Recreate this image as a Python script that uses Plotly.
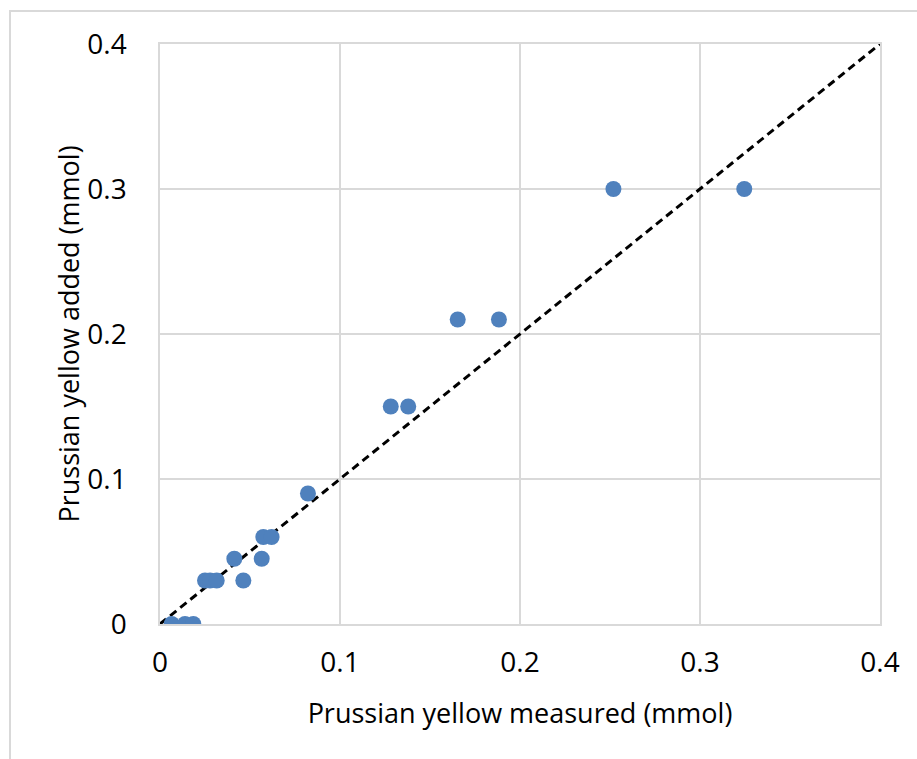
import plotly.graph_objects as go

measured = [0.0065, 0.0139, 0.0185, 0.025, 0.0278, 0.0315, 0.0463, 0.0413, 0.0565,
            0.0574, 0.062, 0.0822, 0.1282, 0.1379, 0.1654, 0.1883, 0.2519, 0.3246]
added = [0, 0, 0, 0.03, 0.03, 0.03, 0.03, 0.045, 0.045,
         0.06, 0.06, 0.09, 0.15, 0.15, 0.21, 0.21, 0.30, 0.30]
line_x = [0, 0.4]
line_y = [0, 0.4]
tick_vals = [0, 0.1, 0.2, 0.3, 0.4]
tick_text = ["0", "0.1", "0.2", "0.3", "0.4"]

FONT = "Open Sans"
grid = "#D9D9D9"

fig = go.Figure()
fig.add_trace(go.Scatter(x=line_x, y=line_y, mode="lines",
                         line=dict(color="black", width=3, dash="8px,5px"),
                         showlegend=False, hoverinfo="skip"))
fig.add_trace(go.Scatter(x=measured, y=added, mode="markers",
                         marker=dict(color="#4F81BD", size=16),
                         showlegend=False))

axis_common = dict(range=[0, 0.4], tickvals=tick_vals, ticktext=tick_text,
                   showgrid=True, gridcolor=grid, gridwidth=1.5,
                   zeroline=False, showline=True, linecolor=grid, linewidth=1.5,
                   mirror=True, ticks="", tickfont=dict(family=FONT, size=28, color="black"),
                   title_font=dict(family=FONT, size=27, color="black"))

fig.update_layout(
    width=917, height=759,
    margin=dict(l=160, r=37, t=44, b=135, autoexpand=False),
    paper_bgcolor="white", plot_bgcolor="white",
    xaxis=dict(**axis_common, title=dict(text="Prussian yellow measured (mmol)", standoff=25),
               ticklabelstandoff=13),
    yaxis=dict(**axis_common, title=dict(text="Prussian yellow added (mmol)", standoff=0),
               ticklabelstandoff=26),
    shapes=[dict(type="rect", xref="paper", yref="paper",
                 x0=(10 - 160) / 720, x1=(925 - 160) / 720,
                 y0=(624 - 770) / 580, y1=1 + (44 - 11) / 580,
                 line=dict(color=grid, width=2), fillcolor="rgba(0,0,0,0)", layer="below")],
)

fig.write_html("out.html")
